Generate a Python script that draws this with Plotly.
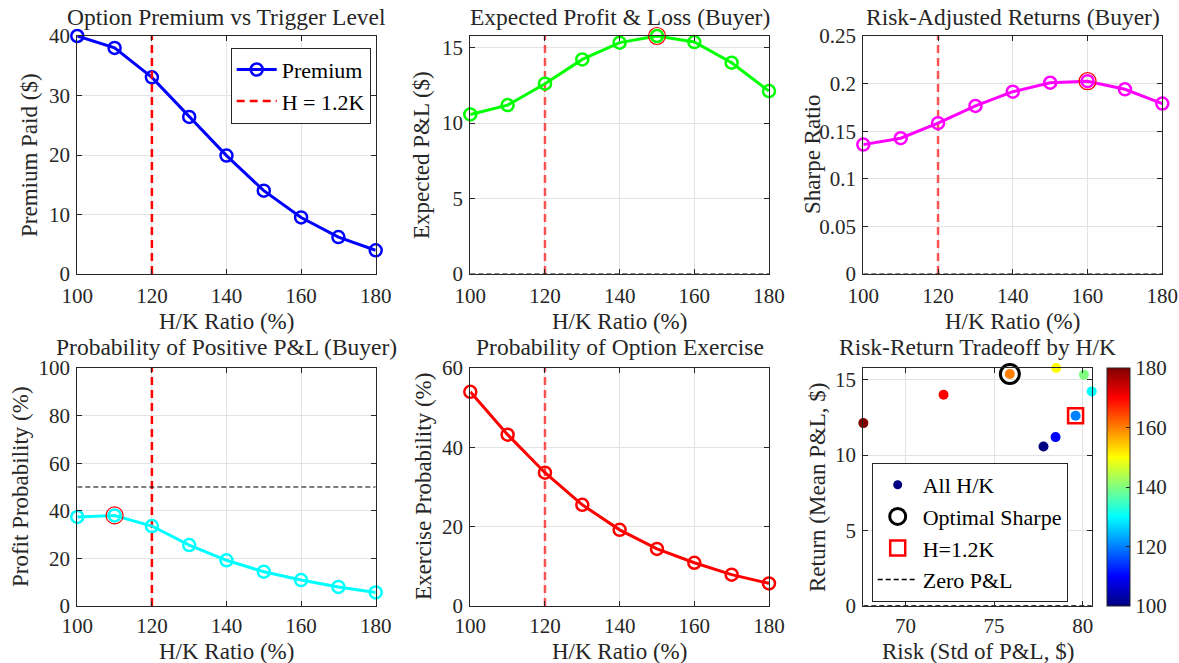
import plotly.graph_objects as go

# ---------------- data ----------------
hk_ratio = [100, 110, 120, 130, 140, 150, 160, 170, 180]
premium = [40.0, 38.0, 33.05, 26.4, 19.9, 14.0, 9.5, 6.2, 3.98]
mean_pnl = [10.57, 11.19, 12.61, 14.22, 15.33, 15.77, 15.37, 14.0, 12.12]
std_pnl = [77.79, 78.47, 79.6, 80.51, 80.07, 78.51, 75.89, 72.15, 67.62]
sharpe = [0.1359, 0.1426, 0.1584, 0.1766, 0.1915, 0.2009, 0.2025, 0.194, 0.179]
profit_prob = [37.4, 38.05, 33.6, 25.6, 19.2, 14.4, 10.9, 8.0, 5.7]
exercise_prob = [54.0, 43.2, 33.6, 25.5, 19.2, 14.4, 10.9, 7.9, 5.7]
h_ref = 120
prob_ref = 50

W, H = 1179, 663
FONT = "Liberation Serif, Times New Roman, serif"
TXT = "#262626"
FS = 21      # tick labels
FL = 23      # axis labels
FG = 22      # legends
FT = 23.5    # titles

jet = [[0.0, "#000080"], [0.125, "#0000ff"], [0.375, "#00ffff"],
       [0.625, "#ffff00"], [0.875, "#ff0000"], [1.0, "#800000"]]

def px2x(p):
    return p / W

def px2y(p):
    return 1 - p / H

# axis boxes in window pixels: (left, right, top, bottom)
boxes = {
    1: (77.3, 375.7, 36, 274),
    2: (470.3, 769, 36, 274),
    3: (863.3, 1162.3, 36, 274),
    4: (77.3, 375.7, 368, 606),
    5: (470.3, 769, 368, 606),
    6: (863.3, 1091.7, 368, 606),
}

fig = go.Figure()

def ax_names(i):
    return ("x" if i == 1 else f"x{i}", "y" if i == 1 else f"y{i}")

def add_line(i, x, y, color, name=None, legend=None, showlegend=False):
    xa, ya = ax_names(i)
    fig.add_trace(go.Scatter(
        x=x, y=y, mode="lines+markers", xaxis=xa, yaxis=ya,
        line=dict(color=color, width=3),
        marker=dict(symbol="circle-open", size=12, color=color, line=dict(width=2.5, color=color)),
        name=name, showlegend=showlegend, legend=legend, cliponaxis=False))

def add_vref(i, top, opacity, name=None, legend=None, showlegend=False):
    xa, ya = ax_names(i)
    fig.add_trace(go.Scatter(
        x=[h_ref, h_ref], y=[0, top], mode="lines", xaxis=xa, yaxis=ya,
        line=dict(color="#ff0000", width=2.5, dash="8px,5px"), opacity=opacity,
        name=name, showlegend=showlegend, legend=legend))

def add_hline(i, x0, x1, yv, width=1):
    xa, ya = ax_names(i)
    fig.add_trace(go.Scatter(
        x=[x0, x1], y=[yv, yv], mode="lines", xaxis=xa, yaxis=ya,
        line=dict(color="#000000", width=width, dash="5px,3px"), showlegend=False))

def add_peak(i, x, y):
    xa, ya = ax_names(i)
    fig.add_trace(go.Scatter(
        x=[x], y=[y], mode="markers", xaxis=xa, yaxis=ya,
        marker=dict(symbol="circle-open", size=17, color="#ff0000", line=dict(width=1.2, color="#ff0000")),
        showlegend=False, cliponaxis=False))

# Plot 1
add_line(1, hk_ratio, premium, "#0000ff", name="Premium", legend="legend", showlegend=True)
add_vref(1, 40, 1.0, name="H = 1.2K", legend="legend", showlegend=True)

# Plot 2
add_vref(2, max(mean_pnl), 0.65)
add_hline(2, hk_ratio[0], hk_ratio[-1], 0)
add_line(2, hk_ratio, mean_pnl, "#00ff00")
i2 = mean_pnl.index(max(mean_pnl))
add_peak(2, hk_ratio[i2], mean_pnl[i2])

# Plot 3
add_vref(3, 0.25, 0.65)
add_hline(3, hk_ratio[0], hk_ratio[-1], 0)
add_line(3, hk_ratio, sharpe, "#ff00ff")
i3 = sharpe.index(max(sharpe))
add_peak(3, hk_ratio[i3], sharpe[i3])

# Plot 4
add_vref(4, 100, 1.0)
add_hline(4, hk_ratio[0], hk_ratio[-1], prob_ref)
add_line(4, hk_ratio, profit_prob, "#00ffff")
i4 = profit_prob.index(max(profit_prob))
add_peak(4, hk_ratio[i4], profit_prob[i4])

# Plot 5
add_vref(5, 60, 0.65)
add_line(5, hk_ratio, exercise_prob, "#ff0000")

# Plot 6
fig.add_trace(go.Scatter(
    x=std_pnl, y=mean_pnl, mode="markers", xaxis="x6", yaxis="y6",
    marker=dict(size=10, color=hk_ratio, colorscale=jet, cmin=100, cmax=180,
                colorbar=dict(x=px2x(1106.7), xanchor="left", xpad=0, ypad=0,
                              y=px2y(487), yanchor="middle", len=238 / H, lenmode="fraction",
                              thickness=23, thicknessmode="pixels", outlinewidth=1, outlinecolor=TXT,
                              tickvals=[100, 120, 140, 160, 180], ticks="inside", ticklen=4,
                              tickcolor=TXT, tickfont=dict(family=FONT, size=FS, color=TXT))),
    name="All H/K", legend="legend2", showlegend=False, cliponaxis=False))
fig.add_trace(go.Scatter(x=[None], y=[None], mode="markers", xaxis="x6", yaxis="y6",
                         marker=dict(size=9, color="#000080"), name="All H/K",
                         legend="legend2", showlegend=True))
iopt = sharpe.index(max(sharpe))
fig.add_trace(go.Scatter(
    x=[std_pnl[iopt]], y=[mean_pnl[iopt]], mode="markers", xaxis="x6", yaxis="y6",
    marker=dict(symbol="circle-open", size=19, color="#000000", line=dict(width=3, color="#000000")),
    name="Optimal Sharpe", legend="legend2", showlegend=True, cliponaxis=False))
iref = hk_ratio.index(h_ref)
fig.add_trace(go.Scatter(
    x=[std_pnl[iref]], y=[mean_pnl[iref]], mode="markers", xaxis="x6", yaxis="y6",
    marker=dict(symbol="square-open", size=15, color="#ff0000", line=dict(width=2.5, color="#ff0000")),
    name="H=1.2K", legend="legend2", showlegend=True, cliponaxis=False))
fig.add_trace(go.Scatter(
    x=[min(std_pnl), max(std_pnl)], y=[0, 0], mode="lines", xaxis="x6", yaxis="y6",
    line=dict(color="#000000", width=1.5, dash="5px,3px"),
    name="Zero P&amp;L", legend="legend2", showlegend=True))

# axes
x_ranges = {1: [100, 180], 2: [100, 180], 3: [100, 180], 4: [100, 180], 5: [100, 180],
            6: [min(std_pnl), max(std_pnl)]}
y_ranges = {1: [0, 40], 2: [0, max(mean_pnl)], 3: [0, 0.25], 4: [0, 100], 5: [0, 60],
            6: [0, max(mean_pnl)]}
y_dticks = {1: 10, 2: 5, 3: 0.05, 4: 20, 5: 20, 6: 5}
x_dticks = {1: 20, 2: 20, 3: 20, 4: 20, 5: 20, 6: 5}

layout = {}
for i, (l, r, t, b) in boxes.items():
    xk = "xaxis" if i == 1 else f"xaxis{i}"
    yk = "yaxis" if i == 1 else f"yaxis{i}"
    xa, ya = ax_names(i)
    common = dict(showline=True, linecolor=TXT, linewidth=1, mirror="ticks", ticks="inside",
                  ticklen=5, tickcolor=TXT, showgrid=True, gridcolor="#e3e3e3", gridwidth=1,
                  zeroline=False, automargin=False,
                  tickfont=dict(family=FONT, size=FS, color=TXT))
    layout[xk] = dict(domain=[px2x(l), px2x(r)], anchor=ya, range=x_ranges[i], dtick=x_dticks[i],
                      tick0=0, ticklabelstandoff=(3 if i <= 3 else 1), **common)
    layout[yk] = dict(domain=[px2y(b), px2y(t)], anchor=xa, range=y_ranges[i], dtick=y_dticks[i],
                      tick0=0, ticklabelstandoff=2, **common)
    if i == 3:
        layout[yk]["tickformat"] = "~g"

fig.update_layout(**layout)

ann = []
def text(x, y, s, size=FL, angle=0, height=None):
    a = dict(x=px2x(x), y=px2y(y), xref="paper", yref="paper", text=s, showarrow=False,
             textangle=angle, xanchor="center", yanchor="middle",
             font=dict(family=FONT, size=size, color=TXT))
    if height is not None:
        a["height"] = height
    ann.append(a)

titles = {1: "Option Premium vs Trigger Level", 2: "Expected Profit &amp; Loss (Buyer)",
          3: "Risk-Adjusted Returns (Buyer)", 4: "Probability of Positive P&amp;L (Buyer)",
          5: "Probability of Option Exercise", 6: "Risk-Return Tradeoff by H/K"}
ylabels = {1: "Premium Paid ($)", 2: "Expected P&amp;L ($)", 3: "Sharpe Ratio",
           4: "Profit Probability (%)", 5: "Exercise Probability (%)", 6: "Return (Mean P&amp;L, $)"}
ylab_x = {1: 29, 2: 421, 3: 812, 4: 20, 5: 423, 6: 817}
for i, (l, r, t, b) in boxes.items():
    text((l + r) / 2, t - (19 if i <= 3 else 21), titles[i], size=FT)
    xl = "Risk (Std of P&amp;L, $)" if i == 6 else "H/K Ratio (%)"
    if i <= 3:
        text((l + r) / 2, b + 47, xl)
    else:
        text((l + r) / 2, b + 45, xl, height=24)
    text(ylab_x[i], (t + b) / 2, ylabels[i], angle=-90)

fig.update_layout(
    width=W, height=H, margin=dict(l=0, r=0, t=0, b=0, pad=0, autoexpand=False),
    paper_bgcolor="white", plot_bgcolor="white",
    font=dict(family=FONT, size=FS, color=TXT),
    annotations=ann,
    legend=dict(x=px2x(370.7), y=px2y(47.7), xanchor="right", yanchor="top",
                bgcolor="white", bordercolor=TXT, borderwidth=1,
                font=dict(family=FONT, size=FG, color="#000000"), itemwidth=40,
                tracegroupgap=0),
    legend2=dict(x=px2x(871.7), y=px2y(602), xanchor="left", yanchor="bottom",
                 bgcolor="white", bordercolor=TXT, borderwidth=1,
                 font=dict(family=FONT, size=FG, color="#000000"), itemwidth=40,
                 tracegroupgap=0),
    showlegend=True,
)

fig.write_html("out.html", config={"displayModeBar": False},
               post_script="document.body.style.margin='0';document.body.style.overflow='hidden';")
